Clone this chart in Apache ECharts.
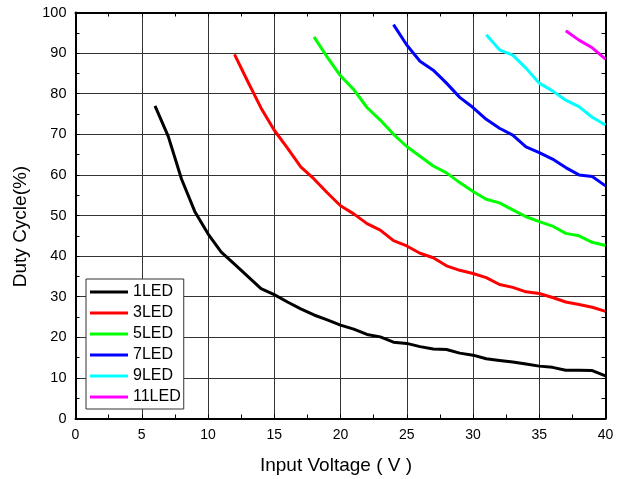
<!DOCTYPE html>
<html><head><meta charset="utf-8">
<script src="https://cdn.jsdelivr.net/npm/echarts@6/dist/echarts.min.js"></script>
<style>html,body{margin:0;padding:0;background:#fff}#c{width:628px;height:479px}</style>
</head><body><div id="c"></div>
<script>
var seriesNames = ['1LED','3LED','5LED','7LED','9LED','11LED'];
var seriesColors = ['#000000','#ff0000','#00ff00','#0000ff','#00ffff','#ff00ff'];
var xTitle = 'Input Voltage ( V )';
var yTitle = 'Duty Cycle(%)';

var v1LED = [6,7,8,9,10,11,12,13,14,15,16,17,18,19,20,21,22,23,24,25,26,27,28,29,30,31,32,33,34,35,36,37,38,39,40];
var d1LED = [77,69.5,59,51,45.5,41,38,35,32,30.5,28.7,27,25.5,24.3,23,22,20.7,20.1,18.8,18.5,17.7,17.1,17,16.1,15.6,14.7,14.3,13.9,13.4,12.9,12.6,11.9,11.9,11.8,10.5];

var v3LED = [12,13,14,15,16,17,18,19,20,21,22,23,24,25,26,27,28,29,30,31,32,33,34,35,36,37,38,39,40];
var d3LED = [89.7,83,76.5,71,66.6,62,59,55.6,52.4,50.4,48,46.4,43.8,42.5,40.7,39.6,37.6,36.5,35.7,34.7,33,32.3,31.2,30.8,29.8,28.7,28.1,27.4,26.4];

var v5LED = [18,19,20,21,22,23,24,25,26,27,28,29,30,31,32,33,34,35,36,37,38,39,40];
var d5LED = [94,89,84.4,81,76.6,73.5,70,67,64.6,62.2,60.5,58.1,55.9,54,53.1,51.4,49.7,48.5,47.4,45.6,45,43.4,42.6];

var v7LED = [24,25,26,27,28,29,30,31,32,33,34,35,36,37,38,39,40];
var d7LED = [97,92,88,85.8,82.6,79.1,76.6,73.7,71.5,69.8,66.9,65.5,63.9,61.8,60,59.6,57.3];

var v9LED = [31,32,33,34,35,36,37,38,39,40];
var d9LED = [94.5,90.8,89.5,86.3,82.6,80.7,78.4,76.8,74.2,72.3];

var v11LED = [37,38,39,40];
var d11LED = [95.5,93.2,91.3,88.5];

var xTicks = [0,5,10,15,20,25,30,35,40];
var yTicks = [0,10,20,30,40,50,60,70,80,90,100];

function pairs(xs, ys){ return xs.map(function(x,i){ return [x, ys[i]]; }); }
var allX = [v1LED,v3LED,v5LED,v7LED,v9LED,v11LED];
var allY = [d1LED,d3LED,d5LED,d7LED,d9LED,d11LED];

var chart = echarts.init(document.getElementById('c'), null, {renderer:'canvas'});
var font = 'Liberation Sans, Arial, sans-serif';
var tickIn = {show:true, inside:true, length:4, lineStyle:{color:'#000', width:1}};
var frameLine = {show:true, onZero:false, lineStyle:{color:'#000', width:2}};
var gridRect = {left:75.5, right:22.5, top:12.5, bottom:60.5, containLabel:false};

function tickAxis(pos, isX){
  var a = {
    type:'value', gridIndex:1, position:pos,
    axisLine:frameLine, axisTick:tickIn, axisLabel:{show:false}, splitLine:{show:false}
  };
  if (isX) { a.min = 0; a.max = 40; a.interval = 2.5; }
  else { a.min = 0; a.max = 100; a.interval = 5; }
  return a;
}

chart.setOption({
  animation:false,
  backgroundColor:'#fff',
  grid:[gridRect, gridRect],
  legend:{
    orient:'vertical', left:86, top:279,
    data: seriesNames,
    icon:'rect', itemWidth:38, itemHeight:3, itemGap:5,
    backgroundColor:'#fff', borderColor:'#333', borderWidth:1,
    padding:[5,3,4,4],
    textStyle:{fontFamily:font, fontSize:16, color:'#000'}
  },
  graphic:[
    {type:'text', x:0, y:0, style:{text:xTitle, font:'19px ' + font, fill:'#000', textAlign:'center', textVerticalAlign:'middle', x:336, y:466}},
    {type:'text', x:21, y:226.5, rotation:Math.PI/2, style:{text:yTitle, font:'19px ' + font, fill:'#000', textAlign:'center', textVerticalAlign:'middle'}}
  ],
  xAxis:[{
    type:'value', gridIndex:0, min:0, max:40, interval:5, position:'bottom',
    axisLine:{show:false},
    axisTick:{show:false},
    axisLabel:{fontFamily:font, fontSize:14, color:'#000', margin:10,
      formatter:function(v){ return xTicks.indexOf(v)>=0 ? String(v) : ''; }},
    splitLine:{show:true, lineStyle:{color:'#333', width:1}}
  },
  tickAxis('bottom', true),
  tickAxis('top', true)
  ],
  yAxis:[{
    type:'value', gridIndex:0, min:0, max:100, interval:10, position:'left',
    axisLine:{show:false},
    axisTick:{show:false},
    axisLabel:{fontFamily:font, fontSize:14.5, color:'#000', margin:9,
      formatter:function(v){ return yTicks.indexOf(v)>=0 ? String(v) : ''; }},
    splitLine:{show:true, lineStyle:{color:'#333', width:1}}
  },
  tickAxis('left', false),
  tickAxis('right', false)
  ],
  series: seriesNames.map(function(n,i){
    return {
      name:n, type:'line', xAxisIndex:0, yAxisIndex:0,
      data: pairs(allX[i], allY[i]),
      symbol:'none', smooth:false,
      lineStyle:{color:seriesColors[i], width:3},
      itemStyle:{color:seriesColors[i]}
    };
  })
});
</script></body></html>
